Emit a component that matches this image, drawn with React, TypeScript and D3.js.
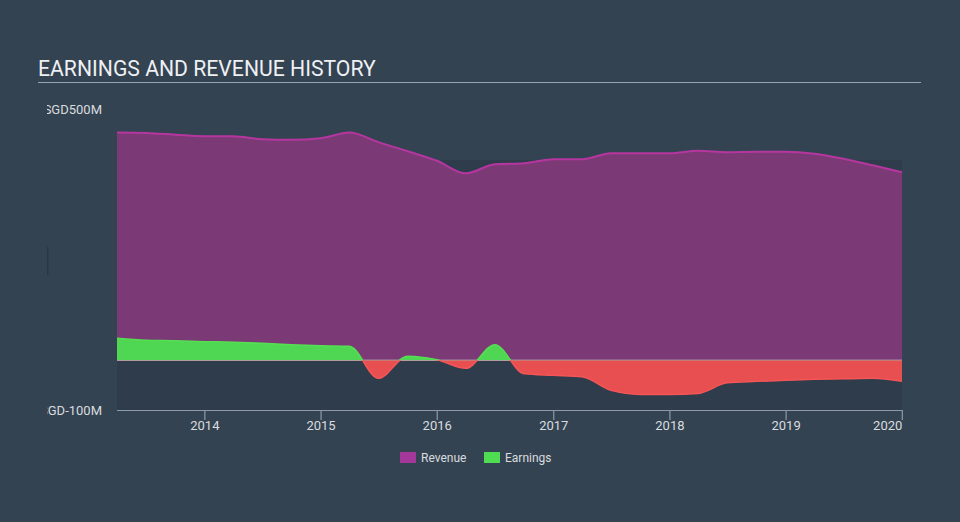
import React from "react";
import * as d3 from "d3";

const periods = [
  "2013-03-31", "2013-06-30", "2013-09-30", "2013-12-31",
  "2014-03-31", "2014-06-30", "2014-09-30", "2014-12-31",
  "2015-03-31", "2015-06-30", "2015-09-30", "2015-12-31",
  "2016-03-31", "2016-06-30", "2016-09-30", "2016-12-31",
  "2017-03-31", "2017-06-30", "2017-09-30", "2017-12-31",
  "2018-03-31", "2018-06-30", "2018-09-30", "2018-12-31",
  "2019-03-31", "2019-06-30", "2019-09-30", "2019-12-31",
];
const revenue = [
  453, 452, 449, 446, 446, 440, 439, 442,
  453, 434, 416, 397, 372, 390, 392, 400,
  400, 412, 412, 412, 417, 414, 415, 415,
  411, 401, 388, 374,
];
const earnings = [
  44, 40, 39, 37, 36, 34, 31, 29,
  28, -36, 8, 1, -16, 31, -27, -30,
  -33, -60, -68, -68, -66, -45, -42, -40,
  -38, -37, -36, -42,
];
const yTickValues = [500, -100];
const yTickLabels = ["SGD500M", "SGD-100M"];
const xTickYears = [2014, 2015, 2016, 2017, 2018, 2019, 2020];
const legendItems = [
  { label: "Revenue", color: "#a4379a" },
  { label: "Earnings", color: "#4fdc52" },
];

const W = 960;
const H = 522;
const plotLeft = 117;
const plotRight = 902;
const FONT = "Roboto, 'Noto Sans', sans-serif";

export default function App() {
  const dates = periods.map((p) => new Date(p + "T00:00:00"));
  const x = d3.scaleTime().domain([dates[0], dates[dates.length - 1]]).range([plotLeft, plotRight]);
  const y = d3.scaleLinear().domain([-100, 500]).range([410.5, 109]);
  const y0 = y(0);

  const revArea = d3
    .area<number>()
    .x((_, i) => x(dates[i]))
    .y0(y0)
    .y1((d) => y(d))
    .curve(d3.curveMonotoneX)(revenue) as string;
  const revLine = d3
    .line<number>()
    .x((_, i) => x(dates[i]))
    .y((d) => y(d))
    .curve(d3.curveMonotoneX)(revenue) as string;
  const earnArea = d3
    .area<number>()
    .x((_, i) => x(dates[i]))
    .y0(y0)
    .y1((d) => y(d))
    .curve(d3.curveMonotoneX)(earnings) as string;
  const earnLine = d3
    .line<number>()
    .x((_, i) => x(dates[i]))
    .y((d) => y(d))
    .curve(d3.curveMonotoneX)(earnings) as string;

  return (
    <svg width={W} height={H} style={{ position: "absolute", left: 0, top: 0, display: "block" }}>
      <defs>
        <clipPath id="posClip">
          <rect x={plotLeft} y={0} width={plotRight - plotLeft} height={y0} />
        </clipPath>
        <clipPath id="negClip">
          <rect x={plotLeft} y={y0} width={plotRight - plotLeft} height={H - y0} />
        </clipPath>
        <clipPath id="labelClip">
          <rect x={47} y={0} width={W} height={H} />
        </clipPath>
      </defs>
      <rect x={0} y={0} width={W} height={H} fill="#344352" />
      <text x={38} y={76} fill="#eef0f2" fontFamily={FONT} fontSize={21.2}>
        EARNINGS AND REVENUE HISTORY
      </text>
      <line x1={38} x2={921} y1={82.5} y2={82.5} stroke="#9aa4ae" strokeWidth={1.2} />

      <rect x={plotLeft} y={160} width={plotRight - plotLeft} height={410 - 160} fill="#2e3c4b" />
      <rect x={47} y={247} width={1.5} height={28} fill="#2a3643" />

      <path d={revArea} fill="#7b3a76" />
      <path d={revLine} fill="none" stroke="#b6369f" strokeWidth={2} />

      <line x1={plotLeft} x2={plotRight} y1={y0} y2={y0} stroke="#d0d3d6" strokeWidth={1.2} />

      <g clipPath="url(#posClip)">
        <path d={earnArea} fill="#4fd653" />
        <path d={earnLine} fill="none" stroke="#55e052" strokeWidth={1.5} />
      </g>
      <g clipPath="url(#negClip)">
        <path d={earnArea} fill="#e84f50" />
        <path d={earnLine} fill="none" stroke="#f45556" strokeWidth={1.5} />
      </g>

      <g clipPath="url(#labelClip)">
        {yTickValues.map((v, i) => (
          <text
            key={v}
            x={102}
            y={y(v)}
            dy="0.35em"
            textAnchor="end"
            fill="#d9dcdf"
            fontFamily={FONT}
            fontSize={13}
          >
            {yTickLabels[i]}
          </text>
        ))}
      </g>

      <line x1={plotLeft} x2={plotRight} y1={410.5} y2={410.5} stroke="#8e9aa6" strokeWidth={1.2} />
      {xTickYears.map((yr) => {
        const xp = x(new Date(yr + "-01-01T00:00:00"));
        const last = yr === xTickYears[xTickYears.length - 1];
        return (
          <g key={yr}>
            <line x1={xp} x2={xp} y1={410} y2={420} stroke="#8e9aa6" strokeWidth={1.2} />
            <text
              x={xp}
              y={430}
              textAnchor={last ? "end" : "middle"}
              fill="#d9dcdf"
              fontFamily={FONT}
              fontSize={13}
            >
              {yr}
            </text>
          </g>
        );
      })}

      {legendItems.map((item, i) => {
        const lx = 400 + i * 84;
        return (
          <g key={item.label}>
            <rect x={lx} y={452} width={16} height={11} fill={item.color} />
            <text x={lx + 21} y={462} fill="#d9dcdf" fontFamily={FONT} fontSize={12}>
              {item.label}
            </text>
          </g>
        );
      })}
    </svg>
  );
}
